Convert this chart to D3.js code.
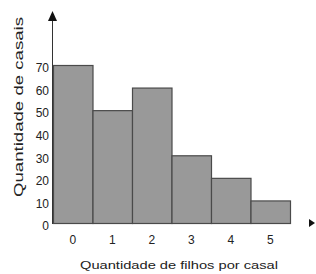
<!DOCTYPE html>
<html><head><meta charset="utf-8">
<script src="https://cdn.jsdelivr.net/npm/d3@7"></script>
<style>html,body{margin:0;padding:0;background:#fff;}svg{display:block;}</style>
</head><body>
<svg id="c" width="316" height="274"></svg>
<script>
const categories = ["0","1","2","3","4","5"];
const values = [70, 50, 60, 30, 20, 10];
const yTicks = [0,10,20,30,40,50,60,70];
const xTitle = "Quantidade de filhos por casal";
const yTitle = "Quantidade de casais";

const svg = d3.select("#c");
const x = d3.scaleBand().domain(categories).range([53, 290]).padding(0);
const y = d3.scaleLinear().domain([0, 70]).range([223, 65]);
const font = "Liberation Sans, Arial, sans-serif";

// bars
svg.append("g").selectAll("rect").data(values).join("rect")
  .attr("x", (d,i) => x(categories[i]) + 0.5)
  .attr("y", d => y(d) + 0.5)
  .attr("width", x.bandwidth())
  .attr("height", d => y(0) - y(d))
  .attr("fill", "#999999")
  .attr("stroke", "#4a4a4a")
  .attr("stroke-width", 1.2);

// y axis
const ya = svg.append("g").attr("transform", "translate(51,3)")
  .call(d3.axisLeft(y).tickValues(yTicks).tickSize(0).tickPadding(2));
ya.select(".domain").remove();
ya.selectAll("text").attr("font-family", font).attr("font-size", 12).attr("fill", "#222");

svg.append("line").attr("x1", 52.5).attr("x2", 52.5).attr("y1", 224).attr("y2", 20)
  .attr("stroke", "#333").attr("stroke-width", 1);
svg.append("path").attr("d", "M52.5,11 L48,21 L57,21 Z").attr("fill", "#111");

// x axis labels
const xa = svg.append("g").attr("transform", "translate(0,231)")
  .call(d3.axisBottom(x).tickSize(0).tickPadding(4));
xa.select(".domain").remove();
xa.selectAll("text").attr("font-family", font).attr("font-size", 12).attr("fill", "#222");

// x arrow
svg.append("path").attr("d", "M315,223 L309,219 L309,227 Z").attr("fill", "#111");

// titles
svg.append("text").attr("x", 80).attr("y", 269)
  .attr("font-family", font).attr("font-size", 11.5).attr("fill", "#222")
  .attr("textLength", 198).attr("lengthAdjust", "spacingAndGlyphs")
  .text(xTitle);
svg.append("text").attr("transform", "translate(23,197) rotate(-90)")
  .attr("font-family", font).attr("font-size", 12.5).attr("fill", "#222")
  .attr("textLength", 180).attr("lengthAdjust", "spacingAndGlyphs")
  .text(yTitle);
</script>
</body></html>
